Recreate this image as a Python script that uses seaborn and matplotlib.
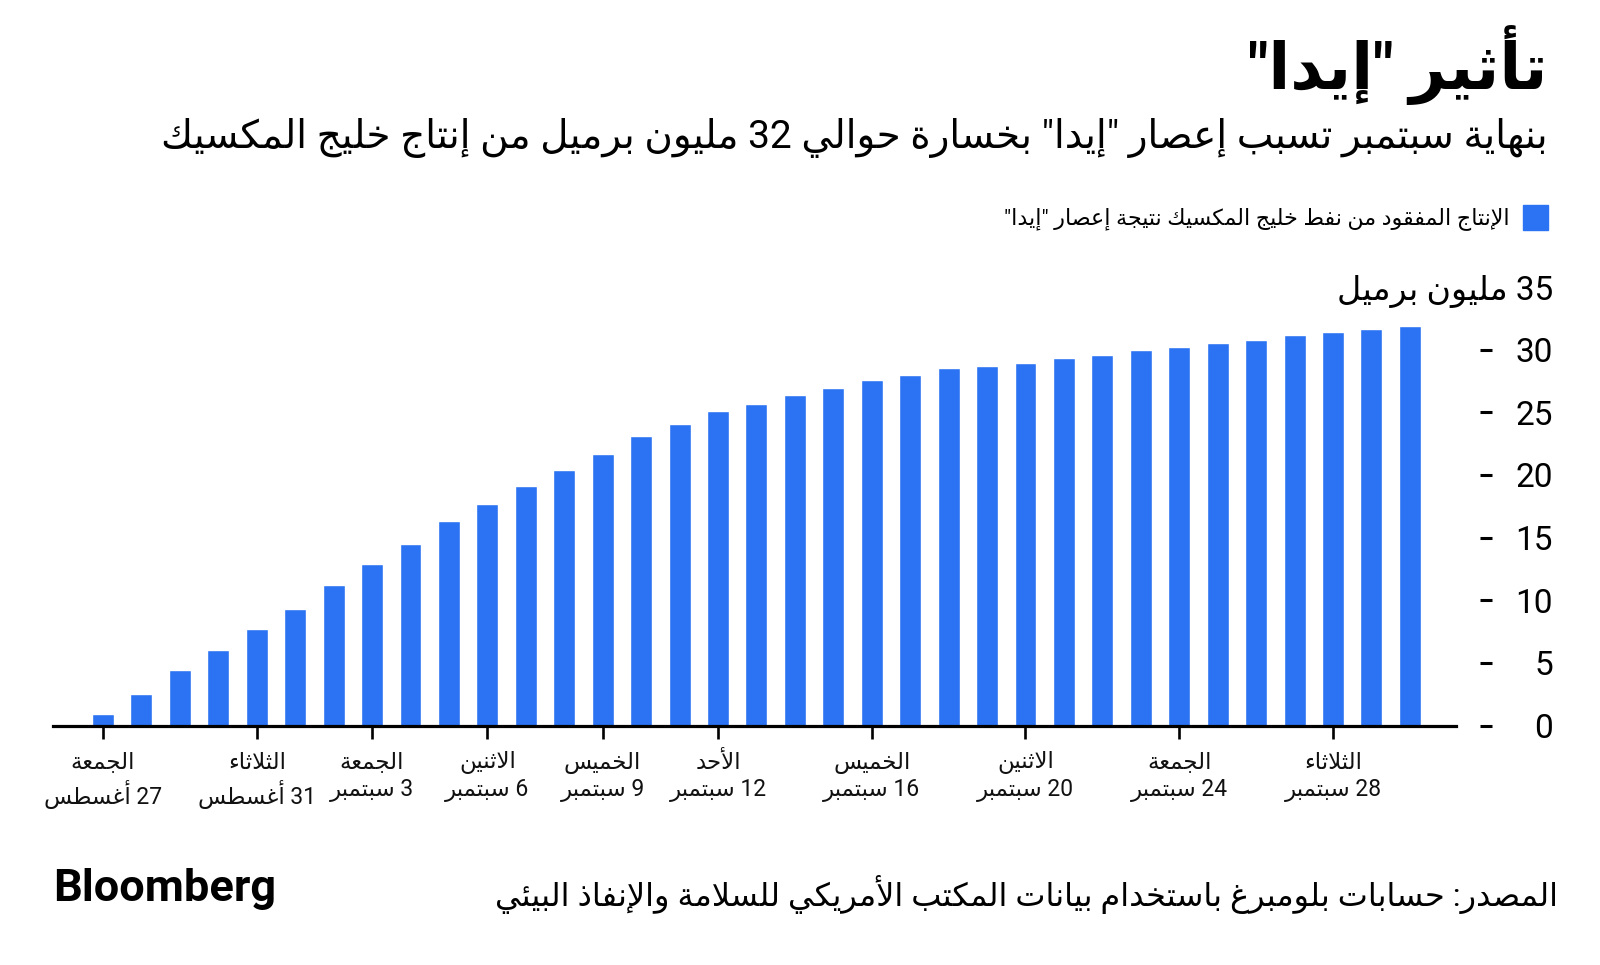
import re
import matplotlib
matplotlib.use("Agg")
import matplotlib.pyplot as plt
import seaborn as sns

sns.set_theme(style="white")
plt.rcParams['font.family'] = ['Roboto', 'DejaVu Sans']

# ---- data ----
days = ['08-27', '08-28', '08-29', '08-30', '08-31', '09-01', '09-02', '09-03',
        '09-04', '09-05', '09-06', '09-07', '09-08', '09-09', '09-10', '09-11',
        '09-12', '09-13', '09-14', '09-15', '09-16', '09-17', '09-18', '09-19',
        '09-20', '09-21', '09-22', '09-23', '09-24', '09-25', '09-26', '09-27',
        '09-28', '09-29', '09-30']
lost_output = [0.9, 2.5, 4.4, 6.05, 7.7, 9.3, 11.2, 12.9, 14.5, 16.3, 17.7, 19.1,
               20.4, 21.7, 23.1, 24.1, 25.1, 25.7, 26.4, 26.9, 27.6, 28.0, 28.5,
               28.7, 28.9, 29.35, 29.6, 30.0, 30.2, 30.55, 30.8, 31.15, 31.4,
               31.65, 31.85]
tick_days = ['08-27', '08-31', '09-03', '09-06', '09-09', '09-12', '09-16',
             '09-20', '09-24', '09-28']
tick_weekdays = ['الجمعة', 'الثلاثاء', 'الجمعة', 'الاثنين', 'الخميس', 'الأحد',
                 'الخميس', 'الاثنين', 'الجمعة', 'الثلاثاء']
tick_dates = ['27 أغسطس', '31 أغسطس', '3 سبتمبر', '6 سبتمبر', '9 سبتمبر',
              '12 سبتمبر', '16 سبتمبر', '20 سبتمبر', '24 سبتمبر', '28 سبتمبر']
y_ticks = [0, 5, 10, 15, 20, 25, 30, 35]
y_unit = 'مليون برميل'

title = 'تأثير "إيدا"'
subtitle = 'بنهاية سبتمبر تسبب إعصار "إيدا" بخسارة حوالي 32 مليون برميل من إنتاج خليج المكسيك'
legend_label = 'الإنتاج المفقود من نفط خليج المكسيك نتيجة إعصار "إيدا"'
source = 'المصدر: حسابات بلومبرغ باستخدام بيانات المكتب الأمريكي للسلامة والإنفاذ البيئي'

BLUE = '#2B73F3'

# ---- minimal arabic shaping (matplotlib has no RTL layout) ----
ISO = {'ء': 0xFE80, 'آ': 0xFE81, 'أ': 0xFE83, 'ؤ': 0xFE85, 'إ': 0xFE87, 'ئ': 0xFE89,
       'ا': 0xFE8D, 'ب': 0xFE8F, 'ة': 0xFE93, 'ت': 0xFE95, 'ث': 0xFE99, 'ج': 0xFE9D,
       'ح': 0xFEA1, 'خ': 0xFEA5, 'د': 0xFEA9, 'ذ': 0xFEAB, 'ر': 0xFEAD, 'ز': 0xFEAF,
       'س': 0xFEB1, 'ش': 0xFEB5, 'ص': 0xFEB9, 'ض': 0xFEBD, 'ط': 0xFEC1, 'ظ': 0xFEC5,
       'ع': 0xFEC9, 'غ': 0xFECD, 'ف': 0xFED1, 'ق': 0xFED5, 'ك': 0xFED9, 'ل': 0xFEDD,
       'م': 0xFEE1, 'ن': 0xFEE5, 'ه': 0xFEE9, 'و': 0xFEED, 'ى': 0xFEEF, 'ي': 0xFEF1}
DUAL = 'ئبتثجحخسشصضطظعغفقكلمنهي'
LAM_ALEF = {'آ': 0xFEF5, 'أ': 0xFEF7, 'إ': 0xFEF9, 'ا': 0xFEFB}


def shape(s):
    units = []
    i = 0
    while i < len(s):
        c = s[i]
        if c == 'ل' and i + 1 < len(s) and s[i + 1] in LAM_ALEF:
            units.append((LAM_ALEF[s[i + 1]], 'R'))
            i += 2
            continue
        if c in ISO:
            kind = 'N' if c == 'ء' else ('D' if c in DUAL else 'R')
            units.append((ISO[c], kind))
        else:
            units.append((c, None))
        i += 1
    out = []
    for j, (u, k) in enumerate(units):
        if k is None:
            out.append(u)
            continue
        prev_k = units[j - 1][1] if j > 0 else None
        next_k = units[j + 1][1] if j + 1 < len(units) else None
        jp = prev_k == 'D' and k != 'N'
        jn = k == 'D' and next_k in ('D', 'R')
        off = 0
        if k != 'N':
            off = 3 if (jp and jn) else 1 if jp else 2 if jn else 0
        out.append(chr(u + off))
    return ''.join(out)


def ar(s):
    lines = []
    for line in s.split('\n'):
        toks = re.findall(r'[0-9A-Za-z.]+|.', shape(line))
        lines.append(''.join(reversed(toks)))
    return '\n'.join(lines)


# ---- figure ----
W, H = 1600, 965
fig = plt.figure(figsize=(W / 100, H / 100), dpi=100)
fig.patch.set_facecolor('white')
ax = fig.add_axes([53 / W, 1 - 725.5 / H, 1403 / W, 438.5 / H])

sns.barplot(x=days, y=lost_output, color=BLUE, saturation=1, width=0.57, ax=ax)

ax.set_xlim(-1.3, len(days) - 1 + 1.2)
ax.set_ylim(0, 35)
for s in ['top', 'left']:
    ax.spines[s].set_visible(False)
ax.spines['bottom'].set_color('black')
ax.spines['bottom'].set_linewidth(2.3)
ax.spines['right'].set_position(('outward', 17.3))
ax.spines['right'].set_visible(False)
ax.set_facecolor('white')
ax.grid(False)

tick_pos = [days.index(d) for d in tick_days]
ax.set_xticks(tick_pos, labels=[ar(w + '\n' + d) for w, d in zip(tick_weekdays, tick_dates)],
              ha='center', multialignment='center', linespacing=1.25)
ax.tick_params(axis='x', bottom=True, length=13 * 0.72, width=1.9, color='black',
               labelsize=16.5, labelcolor='#111111', pad=9)

ax.yaxis.tick_right()
ylabels = [str(v) for v in y_ticks[:-1]] + [ar(str(y_ticks[-1]) + ' ' + y_unit)]
ax.set_yticks(y_ticks, labels=ylabels, ha='right')
ax.tick_params(axis='y', right=True, left=False, length=12 * 0.72, width=2.2,
               color='black', labelsize=24, labelcolor='black', pad=44)
ax.yaxis.get_major_ticks()[-1].tick2line.set_visible(False)
ax.set_xlabel('')
ax.set_ylabel('')

# ---- header / footer text ----
def ftext(x, y, s, **kw):
    fig.text(x / W, 1 - y / H, s, **kw)


ftext(1548, 89, ar(title), ha='right', va='baseline', fontsize=46,
      fontweight='bold', color='black')
ftext(1548, 148, ar(subtitle), ha='right', va='baseline', fontsize=28, color='black')

fig.patches.append(plt.Rectangle((1523 / W, 1 - 230 / H), 25 / W, 25 / H,
                                 transform=fig.transFigure, color=BLUE))
ftext(1510, 224, ar(legend_label), ha='right', va='baseline', fontsize=16, color='black')

ftext(53, 901, 'Bloomberg', ha='left', va='baseline', fontsize=32.5,
      fontweight='bold', color='black')
ftext(1558, 906, ar(source), ha='right', va='baseline', fontsize=23, color='black')

fig.savefig('out.png', dpi=100, facecolor='white')
